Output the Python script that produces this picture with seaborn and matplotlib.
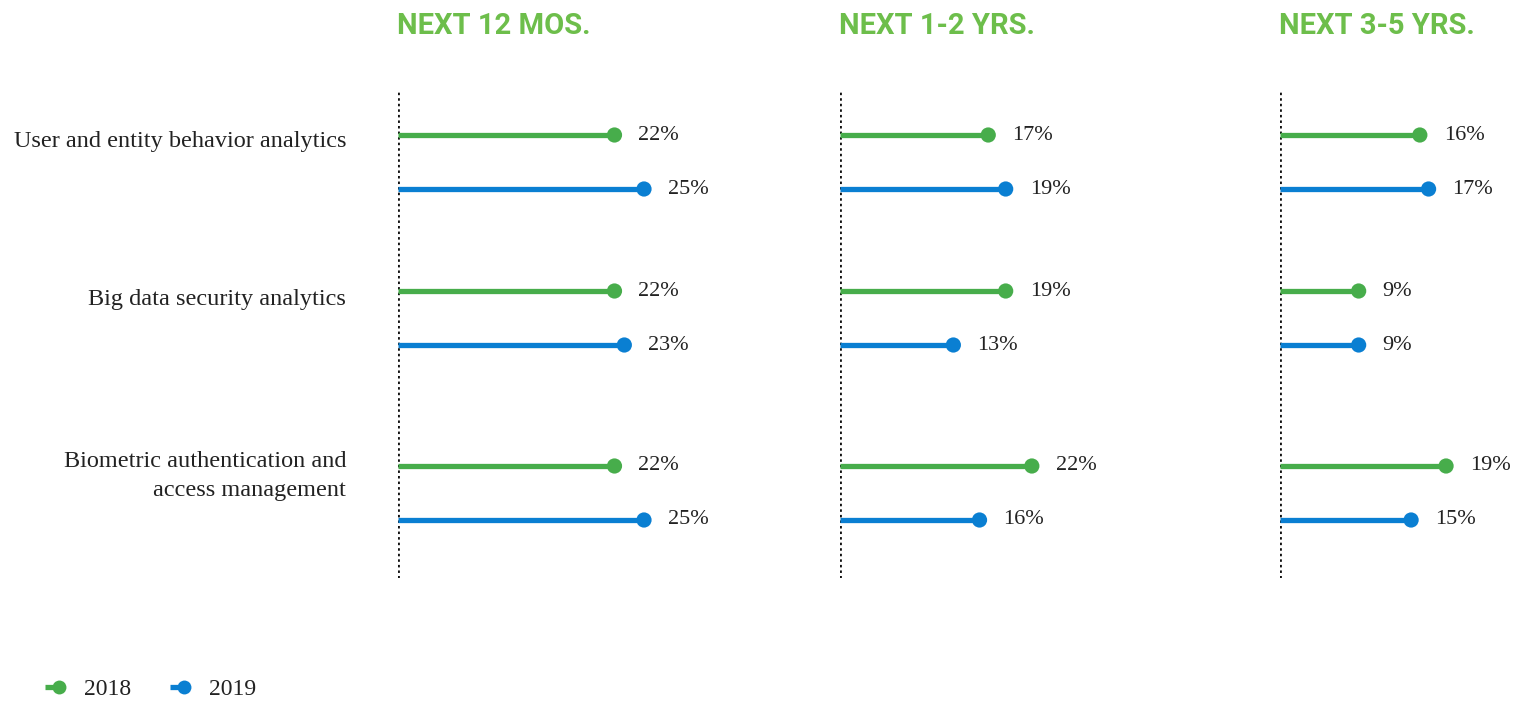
import matplotlib
matplotlib.use("Agg")
import matplotlib.pyplot as plt
from matplotlib.lines import Line2D
import seaborn as sns
import pandas as pd

# Survey data: share of respondents planning to adopt each technology
categories = [
    "User and entity behavior analytics",
    "Big data security analytics",
    "Biometric authentication and\naccess management",
]
horizons = ["NEXT 12 MOS.", "NEXT 1-2 YRS.", "NEXT 3-5 YRS."]
years = ["2018", "2019"]
values_2018 = [
    [22, 22, 22],  # next 12 months
    [17, 19, 22],  # next 1-2 years
    [16, 9, 19],   # next 3-5 years
]
values_2019 = [
    [25, 23, 25],
    [19, 13, 16],
    [17, 9, 15],
]

GREEN = "#47AD4B"
BLUE = "#0A7FD2"
TITLE_GREEN = "#6DBE4B"
TEXT = "#222222"
palette = {"2018": GREEN, "2019": BLUE}

sns.set_theme(style="white")
plt.rcParams["font.family"] = ["Liberation Serif", "DejaVu Serif"]

W, H = 1516, 701
fig = plt.figure(figsize=(W / 100, H / 100), dpi=100)
fig.patch.set_facecolor("white")

# vertical layout (pixels from the top of each panel)
group_base = [45, 201, 376]
year_offset = {"2018": 0, "2019": 54}
panel_left = [398, 840, 1280]
panel_top, panel_bottom = 90, 578
panel_width = 230
# each panel has its own horizontal scale (pixels per percentage point)
px_per_pct = [9.84, 8.72, 8.74]

rows = []
for p, h in enumerate(horizons):
    for g, cat in enumerate(categories):
        for yr, vals in (("2018", values_2018), ("2019", values_2019)):
            rows.append({"horizon": h, "category": cat, "year": yr,
                         "value": vals[p][g],
                         "ypos": group_base[g] + year_offset[yr]})
df = pd.DataFrame(rows)

axes = []
for p, h in enumerate(horizons):
    left = panel_left[p] / W
    bottom = 1 - panel_bottom / H
    height = (panel_bottom - panel_top) / H
    ax = fig.add_axes([left, bottom, panel_width / W, height])
    ax.set_xlim(0, panel_width / px_per_pct[p])
    ax.set_ylim(panel_bottom - panel_top, 0)
    ax.axis("off")
    sub = df[df["horizon"] == h]

    for _, r in sub.iterrows():
        ax.hlines(r["ypos"], 0, r["value"], color=palette[r["year"]],
                  lw=3.8, zorder=2, clip_on=False)
        ax.annotate(f"{r['value']}%", xy=(r["value"], r["ypos"]),
                    xytext=(24, 0), textcoords="offset pixels",
                    ha="left", va="center", fontsize=16, color=TEXT,
                    annotation_clip=False)

    sns.scatterplot(data=sub, x="value", y="ypos", hue="year",
                    palette=palette, s=120, linewidth=0, legend=False,
                    ax=ax, zorder=3, clip_on=False)
    ax.axvline(0, color="#111111", lw=2.0, ls=(0, (0.9, 1.1)), zorder=1)
    ax.set_xlabel("")
    ax.set_ylabel("")

    fig.text(left - 1 / W, 1 - 26 / H, h, ha="left", va="center",
             fontsize=21, fontweight="bold", color=TITLE_GREEN,
             family=["Roboto", "DejaVu Sans"])
    axes.append(ax)

# category labels to the left of the first panel
label_dy = [-6, -9, -10]
for g, cat in enumerate(categories):
    axes[0].annotate(cat, xy=(0, group_base[g]),
                     xycoords=("axes fraction", "data"),
                     xytext=(-52, label_dy[g]), textcoords="offset pixels",
                     ha="right", va="center", fontsize=17.5, color=TEXT,
                     linespacing=1.5, annotation_clip=False)


class LollipopHandler:
    """Legend key: a short stem ending in a dot."""
    def legend_artist(self, legend, orig_handle, fontsize, handlebox):
        x0, y0 = handlebox.xdescent, handlebox.ydescent
        w, h = handlebox.width, handlebox.height
        c = orig_handle.get_color()
        end = x0 + w - 7
        stem = Line2D([x0, end], [y0 + h / 2, y0 + h / 2], color=c,
                      lw=3.8, solid_capstyle="butt",
                      transform=handlebox.get_transform())
        dot = Line2D([end], [y0 + h / 2], color=c, marker="o", ms=10,
                     mew=0, ls="none", transform=handlebox.get_transform())
        handlebox.add_artist(stem)
        handlebox.add_artist(dot)
        return stem


handles = [Line2D([], [], color=palette[y]) for y in years]
fig.legend(handles, years, handler_map={Line2D: LollipopHandler()},
           loc="center left", bbox_to_anchor=(24 / W, 1 - 689 / H),
           ncol=2, frameon=False, fontsize=17, handlelength=1.0,
           handletextpad=0.64, columnspacing=1.65, labelcolor=TEXT)

fig.savefig("out.png", dpi=100, facecolor="white")
